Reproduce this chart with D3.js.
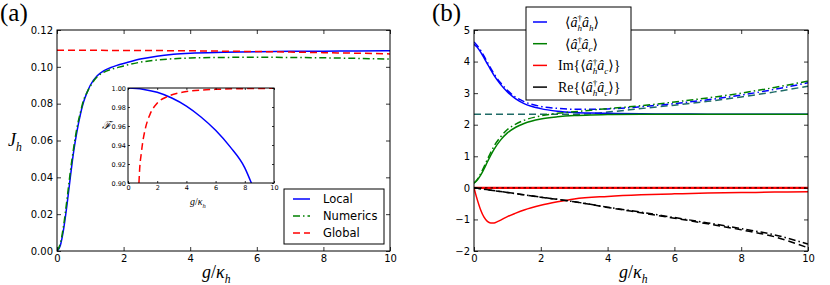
<!DOCTYPE html>
<html>
<head>
<meta charset="utf-8">
<script src="https://cdn.jsdelivr.net/npm/d3@7"></script>
<style>
body { margin: 0; background: #fff; }
svg { display: block; }
</style>
</head>
<body>
<svg id="fig" width="830" height="285"></svg>
<script>
/* global d3 */
'use strict';

//
// Panel (a): heat current J_h against g/kappa_h
//
const gA = [0, 0.1, 0.2, 0.3, 0.4, 0.5, 0.6, 0.7, 0.8, 0.9, 1.0, 1.2, 1.4, 1.6, 1.8, 2.0, 2.5, 3, 3.5, 4, 5, 6, 7, 8, 9, 10];
const jLocal = [0, 0.003, 0.012, 0.025, 0.040, 0.054, 0.065, 0.074, 0.081, 0.086, 0.090, 0.095, 0.0978, 0.0995, 0.1008, 0.1018, 0.1042, 0.1058, 0.1068, 0.1074, 0.1079, 0.1082, 0.1084, 0.1085, 0.1086, 0.1087];
const jNumerics = [0, 0.004, 0.014, 0.028, 0.043, 0.056, 0.067, 0.075, 0.082, 0.086, 0.0895, 0.0945, 0.0970, 0.0985, 0.0995, 0.1005, 0.1025, 0.1037, 0.1044, 0.1048, 0.1051, 0.1052, 0.1051, 0.1049, 0.1046, 0.1042];
const gGlobalA = [0, 2, 4, 5, 6, 7, 8, 9, 10];
const jGlobal = [0.109, 0.1089, 0.1087, 0.1085, 0.1083, 0.1080, 0.1077, 0.1074, 0.1070];

// inset: fidelity F
const gFidLocal = [0, 1, 2, 3, 4, 5, 6, 7, 8, 8.45];
const fidLocal = [1.0, 0.9988, 0.9955, 0.9895, 0.981, 0.9695, 0.9555, 0.938, 0.916, 0.9];
const gFidGlobal = [0.75, 0.8, 0.9, 1.0, 1.2, 1.5, 2, 2.7, 3.5, 4, 5, 6, 8, 10];
const fidGlobal = [0.90, 0.915, 0.93, 0.942, 0.958, 0.972, 0.984, 0.991, 0.9948, 0.9962, 0.9978, 0.9986, 0.9993, 0.9997];

const xTicksA = [0, 2, 4, 6, 8, 10];
const yTicksA = [0, 0.02, 0.04, 0.06, 0.08, 0.10, 0.12];
const yTicksInset = [0.90, 0.92, 0.94, 0.96, 0.98, 1.00];
const legendA = ['Local', 'Numerics', 'Global'];

//
// Panel (b): populations and coherences
//
const gB = [0, 0.1, 0.2, 0.3, 0.4, 0.5, 0.6, 0.8, 1.0, 1.25, 1.5, 2, 2.5, 3, 3.5, 4, 5, 6, 7, 8, 9, 10];
const nhLocal = [4.55, 4.45, 4.3, 4.12, 3.93, 3.74, 3.56, 3.27, 3.04, 2.82, 2.67, 2.51, 2.43, 2.39, 2.37, 2.36, 2.345, 2.34, 2.335, 2.333, 2.332, 2.33];
const nhNumerics = [4.62, 4.5, 4.35, 4.17, 3.98, 3.79, 3.61, 3.32, 3.09, 2.87, 2.73, 2.58, 2.52, 2.49, 2.49, 2.5, 2.57, 2.67, 2.79, 2.94, 3.12, 3.33];
const ncLocal = [0.15, 0.25, 0.4, 0.6, 0.82, 1.03, 1.22, 1.52, 1.74, 1.92, 2.04, 2.18, 2.25, 2.29, 2.31, 2.32, 2.33, 2.33, 2.33, 2.33, 2.33, 2.33];
const ncNumerics = [0.15, 0.27, 0.45, 0.67, 0.9, 1.12, 1.32, 1.62, 1.85, 2.02, 2.14, 2.28, 2.36, 2.41, 2.46, 2.51, 2.6, 2.72, 2.85, 3.0, 3.18, 3.38];
const gNGlobal = [0, 1, 2, 3, 3.5, 4, 5, 6, 7, 8, 9, 10];
const nGlobal = [2.33, 2.33, 2.33, 2.33, 2.35, 2.4, 2.51, 2.62, 2.74, 2.88, 3.04, 3.22];
const gIm = [0, 0.05, 0.1, 0.2, 0.3, 0.4, 0.5, 0.6, 0.7, 0.8, 1, 1.25, 1.5, 2, 2.5, 3, 4, 5, 6, 7, 8, 9, 10];
const imLocal = [0, -0.2, -0.38, -0.7, -0.93, -1.06, -1.11, -1.11, -1.07, -1.02, -0.91, -0.8, -0.7, -0.55, -0.44, -0.35, -0.27, -0.22, -0.19, -0.165, -0.15, -0.135, -0.125];
const gRe = [0, 1, 2, 3, 4, 5, 6, 7, 8, 9, 10];
const reGlobal = [0, -0.147, -0.294, -0.44, -0.62, -0.79, -0.96, -1.14, -1.33, -1.55, -1.9];
const reNumerics = [0, -0.147, -0.294, -0.44, -0.61, -0.77, -0.94, -1.11, -1.29, -1.49, -1.78];
const gZero = [0, 10];
const zeroLine = [0, 0];

const xTicksB = [0, 2, 4, 6, 8, 10];
const yTicksB = [-2, -1, 0, 1, 2, 3, 4, 5];

const BLUE = '#0000ff';
const GREEN = '#008000';
const RED = '#ff0000';
const TEAL = '#1f6b66';
const DASH = '7,4';
const DASHDOT = '7,3,1.5,3';
const SANS = "'DejaVu Sans', sans-serif";
const SERIF = "'Liberation Serif', 'DejaVu Serif', serif";

const svg = d3.select('#fig');

function createPanel(id, left, top, width, height, xDomain, yDomain) {
    const g = svg.append('g').attr('transform', 'translate(' + left + ',' + top + ')');
    g.append('rect').attr('width', width).attr('height', height).attr('fill', '#fff');
    g.append('defs').append('clipPath').attr('id', id)
        .append('rect').attr('width', width).attr('height', height);
    const x = d3.scaleLinear().domain(xDomain).range([0, width]);
    const y = d3.scaleLinear().domain(yDomain).range([height, 0]);
    const plot = g.append('g').attr('clip-path', 'url(#' + id + ')');
    return { g: g, x: x, y: y, plot: plot, width: width, height: height };
}

function drawAxes(p, xTicks, yTicks, yFmt, fontSize, tickLen, pad) {
    const styleAxis = function(sel) {
        sel.select('.domain').remove();
        sel.selectAll('.tick line').attr('stroke', '#000').attr('stroke-width', 0.8);
        sel.selectAll('.tick text').attr('fill', '#000')
            .attr('font-family', SANS).attr('font-size', fontSize);
        sel.attr('font-family', null).attr('font-size', null);
    };
    p.g.append('g').attr('transform', 'translate(0,' + p.height + ')')
        .call(d3.axisBottom(p.x).tickValues(xTicks).tickSizeInner(-tickLen).tickSizeOuter(0)
            .tickPadding(pad).tickFormat(d3.format('d')))
        .call(styleAxis);
    p.g.append('g')
        .call(d3.axisTop(p.x).tickValues(xTicks).tickSizeInner(-tickLen).tickSizeOuter(0).tickFormat(''))
        .call(styleAxis);
    p.g.append('g')
        .call(d3.axisLeft(p.y).tickValues(yTicks).tickSizeInner(-tickLen).tickSizeOuter(0)
            .tickPadding(pad).tickFormat(yFmt))
        .call(styleAxis);
    p.g.append('g').attr('transform', 'translate(' + p.width + ',0)')
        .call(d3.axisRight(p.y).tickValues(yTicks).tickSizeInner(-tickLen).tickSizeOuter(0).tickFormat(''))
        .call(styleAxis);
    p.g.append('rect').attr('width', p.width).attr('height', p.height)
        .attr('fill', 'none').attr('stroke', '#000').attr('stroke-width', 1);
}

function addLine(p, xs, ys, color, dash, width) {
    const pts = xs.map(function(v, i) { return [v, ys[i]]; });
    p.plot.append('path').datum(pts)
        .attr('fill', 'none')
        .attr('stroke', color)
        .attr('stroke-width', width || 1.5)
        .attr('stroke-dasharray', dash || null)
        .attr('d', d3.line()
            .x(function(d) { return p.x(d[0]); })
            .y(function(d) { return p.y(d[1]); })
            .curve(d3.curveMonotoneX));
}

// writes a small math expression made of [text, kind] parts
function mathText(parent, x, y, size, parts) {
    const t = parent.append('text').attr('x', x).attr('y', y)
        .attr('font-family', SERIF).attr('font-size', size).attr('fill', '#000');
    let shift = 0;
    let prev = null;
    parts.forEach(function(part) {
        const kind = part[1];
        let target = 0;
        let fs = size;
        let dx = 0;
        if (kind === 'sup') { target = -size * 0.42; fs = size * 0.65; }
        if (kind === 'sub' || kind === 'subi') { target = size * 0.25; fs = size * 0.65; }
        if (kind === 'subi' && prev === 'sup') { dx = -size * 0.33; }
        t.append('tspan')
            .attr('dy', target - shift)
            .attr('dx', dx || null)
            .attr('font-size', fs)
            .attr('font-style', (kind === 'i' || kind === 'subi') ? 'italic' : null)
            .text(part[0]);
        shift = target;
        prev = kind;
    });
    return t;
}

//
// Panel (a)
//
const pa = createPanel('clipA', 57, 30, 333, 221, [0, 10], [0, 0.12]);
addLine(pa, gA, jLocal, BLUE, null, 1.5);
addLine(pa, gA, jNumerics, GREEN, DASHDOT, 1.5);
addLine(pa, gGlobalA, jGlobal, RED, DASH, 1.5);
drawAxes(pa, xTicksA, yTicksA, d3.format('.2f'), 10, 4, 4);

// inset
const pi = createPanel('clipInset', 128, 88, 146, 95, [0, 10], [0.9, 1.0]);
addLine(pi, gFidLocal, fidLocal, BLUE, null, 1.5);
addLine(pi, gFidGlobal, fidGlobal, RED, DASH, 1.5);
drawAxes(pi, xTicksA, yTicksInset, d3.format('.2f'), 6.5, 2, 2);
pi.g.append('text').attr('x', -26).attr('y', 41).attr('font-family', SERIF)
    .attr('font-style', 'italic').attr('font-size', 11).text('ℱ');
mathText(pi.g, 62, 117, 10, [['g', 'i'], ['/', 'r'], ['κ', 'i'], ['h', 'subi']]);

// legend (a)
const legA = svg.append('g').attr('transform', 'translate(284,189)');
legA.append('rect').attr('width', 100).attr('height', 55)
    .attr('fill', '#fff').attr('stroke', '#000').attr('stroke-width', 1);
const legStylesA = [[BLUE, null], [GREEN, DASHDOT], [RED, DASH]];
legendA.forEach(function(name, i) {
    const yy = 10 + i * 17;
    legA.append('line').attr('x1', 9).attr('x2', 26).attr('y1', yy).attr('y2', yy)
        .attr('stroke', legStylesA[i][0]).attr('stroke-width', 1.5)
        .attr('stroke-dasharray', legStylesA[i][1]);
    legA.append('text').attr('x', 39).attr('y', yy + 4)
        .attr('font-family', SANS).attr('font-size', 11.5).text(name);
});

// labels (a)
svg.append('text').attr('x', 0).attr('y', 21).attr('font-family', SERIF)
    .attr('font-size', 25).text('(a)');
mathText(svg, 8, 146, 18, [['J', 'i'], ['h', 'subi']]);
mathText(svg, 202, 278, 18, [['g', 'i'], ['/', 'r'], ['κ', 'i'], ['h', 'subi']]);

//
// Panel (b)
//
const pb = createPanel('clipB', 474, 30, 334, 221, [0, 10], [-2, 5]);
addLine(pb, gNGlobal, nGlobal, TEAL, DASH, 1.5);
addLine(pb, gB, nhLocal, BLUE, null, 1.5);
addLine(pb, gB, nhNumerics, BLUE, DASHDOT, 1.5);
addLine(pb, gB, ncLocal, GREEN, null, 1.5);
addLine(pb, gB, ncNumerics, GREEN, DASHDOT, 1.5);
addLine(pb, gIm, imLocal, RED, null, 1.5);
addLine(pb, gZero, zeroLine, RED, null, 2.2);
addLine(pb, gRe, reGlobal, '#000', DASH, 1.5);
addLine(pb, gRe, reNumerics, '#000', DASHDOT, 1.5);
addLine(pb, gZero, zeroLine, '#000', '2.5,3', 0.9);
drawAxes(pb, xTicksB, yTicksB, d3.format('d'), 10, 4, 4);

// legend (b)
const legB = svg.append('g').attr('transform', 'translate(526,7)');
legB.append('rect').attr('width', 105).attr('height', 93)
    .attr('fill', '#fff').attr('stroke', '#000').attr('stroke-width', 1);
const legColorsB = [BLUE, GREEN, RED, '#000'];
const legLabelsB = [
    [['\u2002⟨', 'r'], ['â', 'i'], ['†', 'sup'], ['h', 'subi'], ['â', 'i'], ['h', 'subi'], ['⟩', 'r']],
    [['\u2002⟨', 'r'], ['â', 'i'], ['†', 'sup'], ['c', 'subi'], ['â', 'i'], ['c', 'subi'], ['⟩', 'r']],
    [['Im{⟨', 'r'], ['â', 'i'], ['†', 'sup'], ['h', 'subi'], ['â', 'i'], ['c', 'subi'], ['⟩}', 'r']],
    [['Re{⟨', 'r'], ['â', 'i'], ['†', 'sup'], ['h', 'subi'], ['â', 'i'], ['c', 'subi'], ['⟩}', 'r']]
];
legLabelsB.forEach(function(parts, i) {
    const yy = 15 + i * 21.7;
    legB.append('line').attr('x1', 7).attr('x2', 21).attr('y1', yy).attr('y2', yy)
        .attr('stroke', legColorsB[i]).attr('stroke-width', 1.5);
    mathText(legB, 32, yy + 5, 14, parts);
});

// labels (b)
svg.append('text').attr('x', 432).attr('y', 21).attr('font-family', SERIF)
    .attr('font-size', 25).text('(b)');
mathText(svg, 619, 278, 18, [['g', 'i'], ['/', 'r'], ['κ', 'i'], ['h', 'subi']]);
</script>
</body>
</html>
